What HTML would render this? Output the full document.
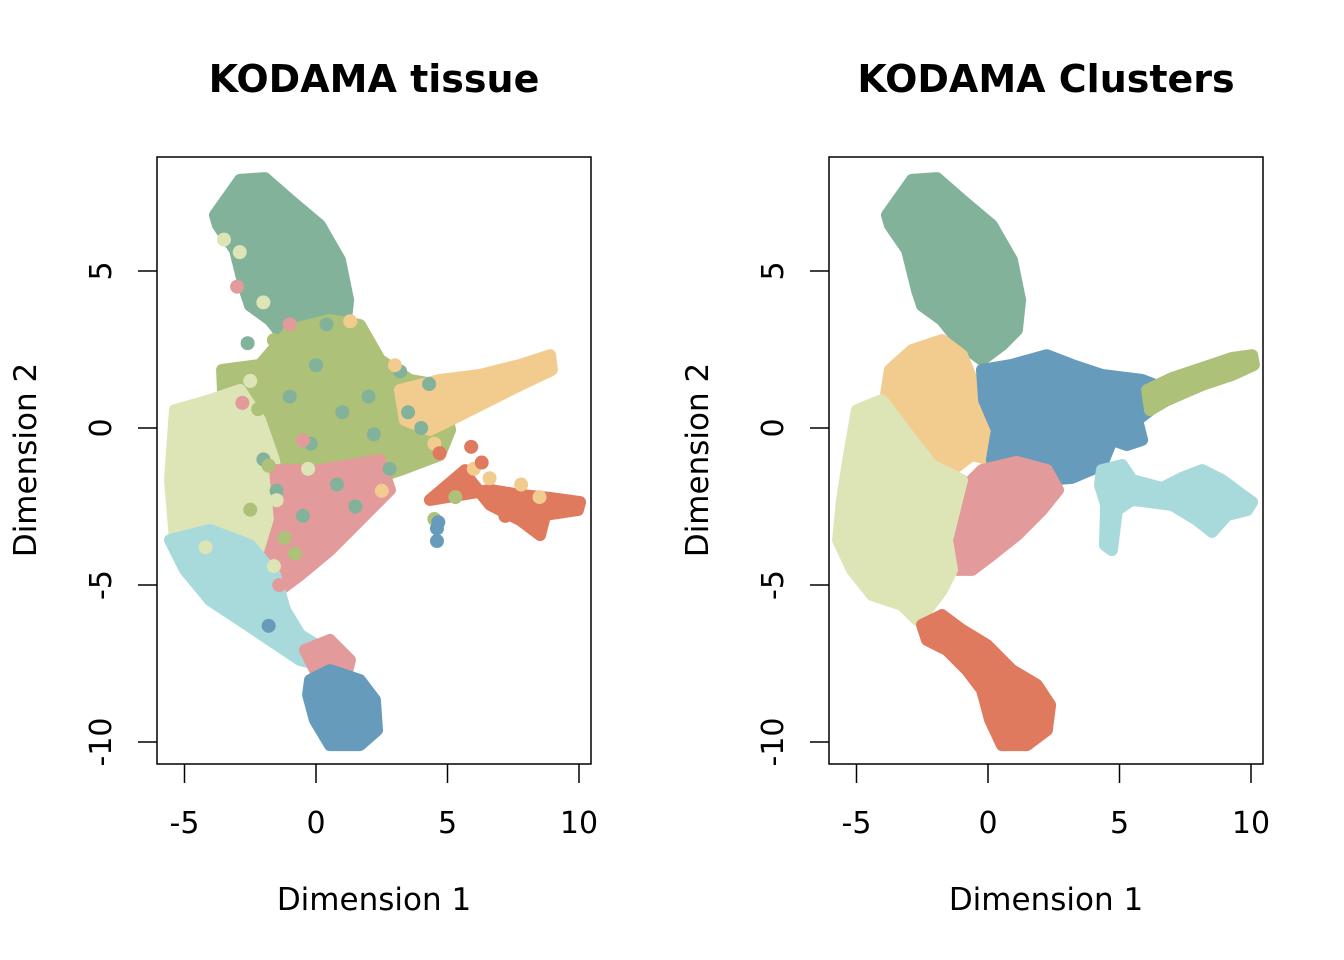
<!DOCTYPE html>
<html><head><meta charset="utf-8"><style>
html,body{margin:0;padding:0;background:#fff;}
svg{display:block;font-family:"DejaVu Sans","Liberation Sans",sans-serif;}
</style></head><body>
<svg id="chart" width="1344" height="960"></svg>
<script>
const xTicks=[-5,0,5,10];
const yTicks=[5,0,-5,-10];
const colGreen="#82B29A",colOlive="#ADC178",colBeige="#DDE5B6",colPink="#E29A9B",colCyan="#A8DADC",colBlue="#669BBC",colOrange="#E07A5F",colPeach="#F2CC8F";
// cluster outlines in data coordinates (Dimension 1, Dimension 2)
const greenTop=[-3.84,6.78,-2.89,7.9,-1.94,7.96,-0.99,7.26,0.15,6.46,0.91,5.35,1.22,4.08,1.1,3.12,0.53,2.64,-0.23,2.17,-0.99,2.64,-1.75,3.44,-2.51,3.9,-2.7,4.39,-3.08,5.67,-3.73,6.46];
const lGreenTail=[-2.3,3.4,-1.0,3.6,0.8,3.3,1.6,2.4,3.0,1.4,4.3,1.4,3.6,0.2,2.0,0.6,0.5,1.0,-1.0,1.6,-2.4,2.2];
// right panel clusters
const rTan=[-3.73,1.85,-2.89,2.48,-1.75,2.8,-0.99,2.32,-0.61,1.53,0.34,1.37,0.46,-0.38,0.15,-1.02,-0.61,-0.86,-1.37,-1.34,-2.13,-1.18,-2.89,-0.38,-3.65,0.25,-3.88,1.05];
const rBlue=[-0.23,1.85,0.91,2.01,2.24,2.32,3.19,2.01,4.33,1.69,5.86,1.53,6.35,1.37,6.16,0.57,5.67,0.25,5.86,-0.38,5.29,-0.54,4.71,-0.38,4.33,-1.18,3.19,-1.59,2.05,-1.66,0.91,-1.34,0.15,-1.02,0.34,-0.06,-0.15,0.89];
const rOlive=[6.05,1.21,7.0,1.59,8.14,1.91,9.28,2.23,10.04,2.32,10.11,2.01,9.28,1.69,8.14,1.37,6.81,0.89,6.16,0.57];
const rCyan=[4.33,-1.34,5.1,-1.18,5.48,-1.66,6.62,-1.91,7.38,-1.59,8.14,-1.34,8.9,-1.66,9.66,-2.13,10.04,-2.36,9.85,-2.61,9.09,-2.77,8.52,-3.31,7.95,-2.93,7.0,-2.45,5.48,-2.29,4.9,-2.61,4.71,-3.89,4.45,-3.73,4.49,-2.45,4.26,-1.82];
const rPink=[-1.18,-2.13,-0.23,-1.34,1.1,-1.08,2.24,-1.34,2.66,-1.97,2.05,-2.61,1.1,-3.41,0.15,-4.04,-0.61,-4.52,-1.18,-4.52,-1.56,-3.73,-1.44,-2.77];
const rBeige=[-4.98,0.57,-4.03,0.89,-3.46,0.25,-2.89,-0.38,-2.13,-1.18,-0.99,-1.66,-1.18,-2.29,-1.56,-3.57,-1.37,-4.52,-1.75,-5.16,-2.32,-5.8,-2.7,-6.11,-3.27,-5.64,-4.41,-5.32,-5.17,-4.52,-5.7,-3.57,-5.55,-2.29,-5.25,-0.7];
const rOrange=[-2.51,-6.27,-1.75,-5.96,-0.99,-6.43,-0.04,-6.91,0.91,-7.71,1.86,-8.18,2.36,-8.82,2.24,-9.62,1.48,-10.1,0.53,-10.1,0.08,-9.3,-0.23,-8.34,-0.8,-7.71,-1.56,-7.07,-2.32,-6.75];
// left panel tissue groups
const lOlive=[-3.57,1.85,-2.13,2.01,-0.99,3.12,0.53,3.44,1.67,3.28,2.43,2.17,3.57,1.53,4.71,1.37,5.1,-0.06,4.71,-0.86,3.19,-1.34,2.05,-1.66,0.53,-2.29,-0.99,-1.66,-2.13,-2.29,-2.89,-1.97,-3.46,-0.38];
const lPeach=[3.19,1.21,4.71,1.53,6.24,1.69,7.76,2.01,8.9,2.32,8.97,1.85,7.76,1.37,6.24,0.73,5.1,0.25,4.33,-0.06,3.38,0.25];
const lBeige=[-5.36,0.57,-4.03,0.89,-2.89,1.21,-2.13,0.25,-1.6,-1.02,-1.3,-3.0,-1.37,-4.2,-2.32,-4.68,-3.27,-4.2,-4.41,-4.04,-5.36,-3.57,-5.55,-1.66];
const lPink=[-1.56,-1.34,0.15,-1.34,2.43,-1.02,2.81,-1.97,1.67,-2.93,0.53,-3.89,-0.61,-4.68,-1.37,-5.16,-1.83,-4.2,-1.37,-2.93];
const lCyan=[-5.55,-3.57,-4.03,-3.25,-2.51,-3.73,-1.56,-4.68,-1.18,-5.8,-0.61,-6.59,0.34,-7.07,0.15,-7.55,-0.61,-7.39,-1.75,-6.75,-2.89,-6.11,-4.03,-5.48,-4.98,-4.52];
const lPinkBottom=[-0.42,-7.07,0.53,-6.75,1.29,-7.39,1.1,-8.03,0.15,-8.03];
const lBlue=[-0.23,-8.03,0.53,-7.71,1.67,-8.03,2.24,-8.66,2.32,-9.62,1.67,-10.1,0.53,-10.1,-0.04,-9.3,-0.3,-8.5];
const lOrange=[4.33,-2.29,5.48,-2.13,6.62,-1.97,7.76,-2.13,8.9,-2.23,10.04,-2.36,9.96,-2.61,8.71,-2.77,8.52,-3.41,7.76,-2.93,6.62,-2.45,5.86,-1.66,5.67,-1.34];
// scattered individual points in left panel
const dotGreenX=[0,-1,1,2,3.5,-2,4,-0.5,1.5,2.8,-2.6,0.4,3.2,4.3,-1.5,0.8,2.2,-0.2];
const dotGreenY=[2,1,0.5,1,0.5,-1,0,-2.8,-2.5,-1.3,2.7,3.3,1.8,1.4,-2.0,-1.8,-0.2,-0.5];
const dotOliveX=[-1.2,-2.5,-1.8,-0.8,-2.2,4.5,5.3,-1.6];
const dotOliveY=[-3.5,-2.6,-1.2,-4.0,0.6,-2.9,-2.2,2.8];
const dotPeachX=[3,2.5,6,7.8,4.5,1.3,6.6,8.5];
const dotPeachY=[2,-2,-1.3,-1.8,-0.5,3.4,-1.6,-2.2];
const dotOrangeX=[5.9,6.3,4.7,7.2];
const dotOrangeY=[-0.6,-1.1,-0.8,-2.8];
const dotBeigeX=[-3.5,-2,-2.5,-0.3,-4.2,-1.5,-2.9,-1.6];
const dotBeigeY=[6,4,1.5,-1.3,-3.8,-2.3,5.6,-4.4];
const dotPinkX=[-3,-1,-2.8,-0.5,-1.4];
const dotPinkY=[4.5,3.3,0.8,-0.4,-5.0];
const dotBlueX=[4.6,4.6,4.65,-1.8];
const dotBlueY=[-3.2,-3.6,-3.0,-6.3];

const NS="http://www.w3.org/2000/svg";
const svg=document.getElementById('chart');
function mk(tag,attrs,parent){const e=document.createElementNS(NS,tag);for(const k in attrs)e.setAttribute(k,attrs[k]);(parent||svg).appendChild(e);return e;}

function panel(offset,title,layers,dots,pname){
  const g=mk('g',{});
  
  
  const sx=v=>316+offset+v*26.3;
  const sy=v=>428-v*31.4;
  const pts=arr=>{let s=[];for(let i=0;i<arr.length;i+=2)s.push(sx(arr[i]).toFixed(1)+','+sy(arr[i+1]).toFixed(1));return s.join(' ');};
  layers.forEach(([arr,col,nm])=>{
    const p=mk('polygon',{points:pts(arr),fill:col,stroke:col,'stroke-width':12,'stroke-linejoin':'round'},g);
    
    
  });
  dots.forEach(([xs,ys,col,nm])=>{
    xs.forEach((x,i)=>{
      const c=mk('circle',{cx:sx(x),cy:sy(ys[i]),r:7,fill:col},g);
      
      
    });
  });
  const box=mk('rect',{x:157+offset,y:157,width:434,height:607,fill:'none',stroke:'#000','stroke-width':1.5},g);
  
  
  xTicks.forEach(t=>{
    const l=mk('line',{x1:sx(t),x2:sx(t),y1:764,y2:783,stroke:'#000','stroke-width':1.5},g);
    
    
    const tx=mk('text',{x:sx(t),y:833,'font-size':30,'text-anchor':'middle'},g);tx.textContent=t;
    
    
  });
  yTicks.forEach(t=>{
    const l=mk('line',{x1:138+offset,x2:157+offset,y1:sy(t),y2:sy(t),stroke:'#000','stroke-width':1.5},g);
    
    
    const tx=mk('text',{x:0,y:0,'font-size':30,'text-anchor':'middle',transform:`translate(${111+offset},${sy(t)}) rotate(-90)`},g);tx.textContent=t;
    
    
  });
  const tt=mk('text',{x:374+offset,y:92,'font-size':38,'font-weight':'bold','text-anchor':'middle'},g);tt.textContent=title;
  
  
  const xl=mk('text',{x:374+offset,y:910,'font-size':31,'text-anchor':'middle'},g);xl.textContent='Dimension 1';
  
  
  const yl=mk('text',{x:0,y:0,'font-size':31,'text-anchor':'middle',transform:`translate(${36+offset},460) rotate(-90)`},g);yl.textContent='Dimension 2';
  
  
}

panel(0,'KODAMA tissue',[
  [greenTop,colGreen,'tissue-green'],
  [lOlive,colOlive,'tissue-olive'],
  [lPeach,colPeach,'tissue-peach'],
  [lOrange,colOrange,'tissue-orange'],
  [lBeige,colBeige,'tissue-beige'],
  [lPink,colPink,'tissue-pink'],
  [lCyan,colCyan,'tissue-cyan'],
  [lPinkBottom,colPink,'tissue-pink-bottom'],
  [lBlue,colBlue,'tissue-blue']
],[
  [dotGreenX,dotGreenY,colGreen,'point-green'],
  [dotOliveX,dotOliveY,colOlive,'point-olive'],
  [dotPeachX,dotPeachY,colPeach,'point-peach'],
  [dotOrangeX,dotOrangeY,colOrange,'point-orange'],
  [dotBeigeX,dotBeigeY,colBeige,'point-beige'],
  [dotPinkX,dotPinkY,colPink,'point-pink'],
  [dotBlueX,dotBlueY,colBlue,'point-blue']
],'tissue-panel');

panel(672,'KODAMA Clusters',[
  [greenTop,colGreen,'cluster-green'],
  [rTan,colPeach,'cluster-tan'],
  [rBlue,colBlue,'cluster-blue'],
  [rOlive,colOlive,'cluster-olive'],
  [rCyan,colCyan,'cluster-cyan'],
  [rPink,colPink,'cluster-pink'],
  [rBeige,colBeige,'cluster-beige'],
  [rOrange,colOrange,'cluster-orange']
],[],'clusters-panel');
</script>
</body></html>
